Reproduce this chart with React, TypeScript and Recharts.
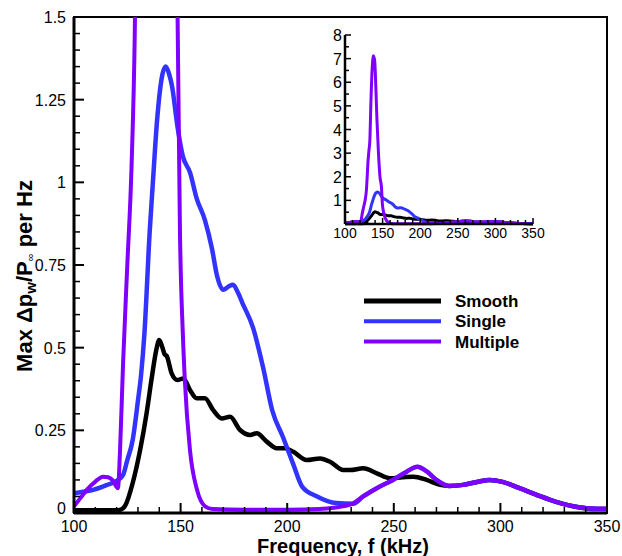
import { LineChart, Line, XAxis, YAxis, ReferenceArea } from 'recharts';

// frequency (kHz) samples and Max dp/P per Hz values for each surface
const smoothFreq = [100, 110, 120, 122, 124, 127.5, 131, 134, 136.5, 138.5, 140, 141.5, 142.5, 143.5, 145.8, 148.5, 151.3, 154.4, 157.5, 161.4, 165.3, 169.3, 173.2, 177.9, 182.6, 185.7, 190.4, 195.1, 199, 202.9, 209.1, 215.4, 220.1, 226.3, 229.5, 235.7, 242, 248.2, 254, 259.2, 265.4, 271.7, 276, 282.5, 289, 295, 301, 309, 317, 326.5, 336, 345, 350];
const smoothVal = [0.008, 0.008, 0.008, 0.01, 0.022, 0.09, 0.19, 0.3, 0.41, 0.49, 0.523, 0.5, 0.48, 0.475, 0.422, 0.402, 0.407, 0.372, 0.347, 0.347, 0.311, 0.286, 0.291, 0.251, 0.236, 0.241, 0.216, 0.196, 0.196, 0.185, 0.16, 0.165, 0.155, 0.13, 0.13, 0.135, 0.12, 0.105, 0.108, 0.11, 0.1, 0.085, 0.082, 0.085, 0.094, 0.1, 0.094, 0.075, 0.055, 0.033, 0.018, 0.012, 0.012];

const singleFreq = [100, 105, 109, 115.5, 120.6, 123, 125, 127.5, 130, 131.5, 133, 135.5, 137, 139, 141, 143, 144.5, 146, 148.5, 151, 154.4, 157.6, 161.4, 164.7, 167, 170, 172.5, 174.6, 177, 179, 184, 188.7, 193, 198, 202.7, 207, 214, 223, 231, 235.6, 242, 249.6, 256, 261, 265.6, 270, 276, 282.5, 289, 295, 301, 309, 317, 326.5, 336, 345, 350];
const singleVal = [0.06, 0.065, 0.07, 0.085, 0.1, 0.115, 0.16, 0.22, 0.34, 0.42, 0.54, 0.85, 1.0, 1.19, 1.31, 1.35, 1.33, 1.29, 1.17, 1.08, 1.03, 0.95, 0.886, 0.8, 0.72, 0.675, 0.685, 0.69, 0.665, 0.635, 0.56, 0.44, 0.31, 0.23, 0.15, 0.08, 0.05, 0.03, 0.028, 0.05, 0.075, 0.1, 0.125, 0.14, 0.125, 0.1, 0.082, 0.085, 0.094, 0.1, 0.094, 0.075, 0.055, 0.033, 0.018, 0.013, 0.013];

const multipleFreq = [100, 103, 106, 110, 113.6, 116, 118, 120.6, 121.6, 123, 125, 127, 128.5, 129.5, 130.5, 131.8, 133, 134.5, 136, 137.8, 139.5, 141, 142.5, 144.5, 146.5, 148.5, 149.7, 151, 152, 154.4, 157.7, 161.5, 165, 180, 200, 215, 222, 229.5, 235.6, 242, 249.6, 256, 261, 265.6, 270, 276, 282.5, 289, 295, 301, 309, 317, 326.5, 336, 345, 350];
const multipleVal = [0.02, 0.045, 0.07, 0.095, 0.11, 0.108, 0.1, 0.075, 0.19, 0.45, 0.75, 1.05, 1.45, 2.0, 2.6, 3.1, 3.5, 5.2, 6.5, 7.12, 6.9, 5.8, 4.4, 3.0, 2.0, 1.55, 0.85, 0.55, 0.4, 0.19, 0.07, 0.02, 0.012, 0.01, 0.01, 0.012, 0.016, 0.025, 0.05, 0.075, 0.1, 0.125, 0.14, 0.125, 0.1, 0.082, 0.085, 0.094, 0.1, 0.094, 0.075, 0.055, 0.033, 0.018, 0.013, 0.013];

const xMajor = [100, 150, 200, 250, 300, 350];
const xTicks = Array.from({ length: 26 }, (_, i) => 100 + i * 10);
const yTicks = Array.from({ length: 31 }, (_, i) => i * 0.05);
const yLabels = ['0', '0.25', '0.5', '0.75', '1', '1.25', '1.5'];
const insetYTicks = Array.from({ length: 17 }, (_, i) => i * 0.5);
const insetYLabels = ['1', '2', '3', '4', '5', '6', '7', '8'];

const series = [
  { name: 'Smooth', color: '#000000', f: smoothFreq, v: smoothVal, w: 4.5 },
  { name: 'Single', color: '#3333ff', f: singleFreq, v: singleVal, w: 4.5 },
  { name: 'Multiple', color: '#8000ff', f: multipleFreq, v: multipleVal, w: 4 },
];

const rows = (f: number[], v: number[]) => f.map((x, i) => ({ f: x, v: v[i] }));

const FONT = '"Liberation Sans", Arial, Helvetica, sans-serif';

const MainXTick = (props: any) => {
  const { x, y, payload } = props;
  const major = xMajor.includes(payload.value);
  return (
    <g>
      <line x1={x} x2={x} y1={y} y2={y - (major ? 10 : 6)} stroke="#000" strokeWidth={major ? 2 : 1.5} />
      {major && (
        <text x={x} y={y + 19} textAnchor="middle" fontSize={16} fontFamily={FONT} fill="#000">
          {payload.value}
        </text>
      )}
    </g>
  );
};

const MainYTick = (props: any) => {
  const { x, y, payload } = props;
  const k = Math.round(payload.value * 100);
  const major = k % 25 === 0;
  // the zero label sits a little higher so it clears the "100" below it
  const dy = k === 0 ? 1 : 6;
  return (
    <g>
      <line x1={x} x2={x + (major ? 10 : 6)} y1={y} y2={y} stroke="#000" strokeWidth={major ? 2 : 1.5} />
      {major && (
        <text x={x - 8} y={y + dy} textAnchor="end" fontSize={16} fontFamily={FONT} fill="#000">
          {yLabels[k / 25]}
        </text>
      )}
    </g>
  );
};

const InsetXTick = (props: any) => {
  const { x, y, payload } = props;
  const major = xMajor.includes(payload.value);
  return (
    <g>
      <line x1={x} x2={x} y1={y} y2={y - (major ? 6 : 4)} stroke="#000" strokeWidth={1.5} />
      {major && (
        <text x={x} y={y + 14} textAnchor="middle" fontSize={14} fontFamily={FONT} fill="#000">
          {payload.value}
        </text>
      )}
    </g>
  );
};

const InsetYTick = (props: any) => {
  const { x, y, payload } = props;
  const major = Number.isInteger(payload.value);
  return (
    <g>
      <line x1={x} x2={x + (major ? 6 : 4)} y1={y} y2={y} stroke="#000" strokeWidth={1.5} />
      {major && payload.value > 0 && (
        <text x={x - 3} y={y + 6} textAnchor="end" fontSize={16} fontFamily={FONT} fill="#000">
          {insetYLabels[payload.value - 1]}
        </text>
      )}
    </g>
  );
};

export default function App() {
  return (
    <div style={{ position: 'absolute', left: 0, top: 0, width: 622, height: 556, background: '#fff', fontFamily: FONT }}>
      <div style={{ position: 'absolute', left: 0, top: 0 }}>
        <LineChart width={622} height={556} margin={{ top: 17, right: 15, left: 0, bottom: 0 }}>
          <ReferenceArea x1={100} x2={350} y1={0} y2={1.5} fill="none" stroke="#000" strokeWidth={2} />
          <XAxis
            type="number"
            dataKey="f"
            domain={[100, 350]}
            ticks={xTicks}
            interval={0}
            height={43}
            tickSize={0}
            tickMargin={0}
            tickLine={false}
            tick={<MainXTick />}
            axisLine={{ stroke: '#000', strokeWidth: 3 }}
            allowDataOverflow
          />
          <YAxis
            type="number"
            domain={[0, 1.5]}
            ticks={yTicks}
            interval={0}
            width={74}
            tickSize={0}
            tickMargin={0}
            tickLine={false}
            tick={<MainYTick />}
            axisLine={{ stroke: '#000', strokeWidth: 3 }}
            allowDataOverflow
          />
          {series.map((s) => (
            <Line
              key={s.name}
              data={rows(s.f, s.v)}
              dataKey="v"
              name={s.name}
              type="monotone"
              stroke={s.color}
              strokeWidth={s.w}
              dot={false}
              activeDot={false}
              isAnimationActive={false}
            />
          ))}
        </LineChart>
      </div>

      <div style={{ position: 'absolute', left: 300, top: 20 }}>
        <LineChart width={250} height={230} margin={{ top: 15, right: 17, left: 0, bottom: 0 }}>
          <XAxis
            type="number"
            dataKey="f"
            domain={[100, 350]}
            ticks={xTicks}
            interval={0}
            height={26}
            tickSize={0}
            tickMargin={0}
            tickLine={false}
            tick={<InsetXTick />}
            axisLine={{ stroke: '#000', strokeWidth: 2.5 }}
          />
          <YAxis
            type="number"
            domain={[0, 8]}
            ticks={insetYTicks}
            interval={0}
            width={45}
            tickSize={0}
            tickMargin={0}
            tickLine={false}
            tick={<InsetYTick />}
            axisLine={{ stroke: '#000', strokeWidth: 2.5 }}
          />
          {series.map((s) => (
            <Line
              key={s.name}
              data={rows(s.f, s.v)}
              dataKey="v"
              type="monotone"
              stroke={s.color}
              strokeWidth={3}
              dot={false}
              activeDot={false}
              isAnimationActive={false}
            />
          ))}
        </LineChart>
      </div>

      <svg width={622} height={556} style={{ position: 'absolute', left: 0, top: 0, pointerEvents: 'none' }}>
        <text
          x={32}
          y={276}
          transform="rotate(-90 32 276)"
          textAnchor="middle"
          fontSize={22}
          fontWeight="bold"
          fontFamily={FONT}
          fill="#000"
        >
          Max Δp<tspan dy={4} fontSize={15}>w</tspan>
          <tspan dy={-4}>/P</tspan>
          <tspan dy={2} fontSize={11} fontWeight="normal">∞</tspan>
          <tspan dy={-2}> per Hz</tspan>
        </text>
        <text x={343} y={553} textAnchor="middle" fontSize={20} fontWeight="bold" fontFamily={FONT} fill="#000">
          Frequency, f (kHz)
        </text>
        {series.map((s, i) => (
          <g key={s.name}>
            <line x1={364} x2={441} y1={301 + i * 20.3} y2={301 + i * 20.3} stroke={s.color} strokeWidth={i === 0 ? 5 : 4} />
            <text x={455} y={307 + i * 20.3} fontSize={17} fontWeight="bold" fontFamily={FONT} fill="#000">
              {s.name}
            </text>
          </g>
        ))}
      </svg>
    </div>
  );
}
